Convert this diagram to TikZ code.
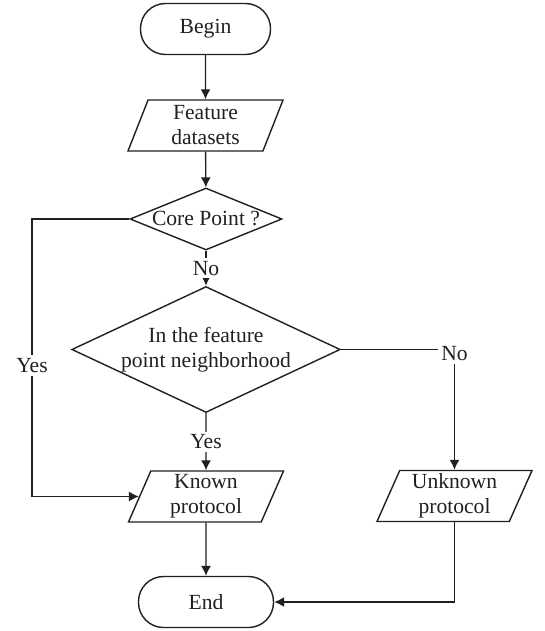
\documentclass[tikz,border=0pt]{standalone}
\usepackage{fontspec}
\setmainfont{Liberation Serif}
\usepackage{xcolor}
\usepackage{tikz}
\usetikzlibrary{arrows.meta, shapes}
\usetikzlibrary{shapes.geometric, positioning, calc}

\definecolor{inkgray}{HTML}{231F20}

\tikzset{
    flowline/.style={draw=inkgray, line width=0.7pt},
    terminal/.style={flowline, rounded corners=12.5pt, minimum width=65pt, minimum height=25.5pt, inner sep=0pt},
    iobox/.style={flowline, trapezium, trapezium left angle=63, trapezium right angle=117,
        trapezium stretches body=true, minimum width=77.5pt, minimum height=25.5pt,
        inner sep=0pt, align=center},
    decision/.style={flowline, diamond, aspect=2.4, inner sep=0pt, align=center},
    answer/.style={fill=white, inner sep=1.5pt, text=inkgray}
}

\begin{document}
\begin{tikzpicture}[x=0.5pt, y=-0.5pt, >={Latex[length=5pt,width=5pt]},
        font=\fontsize{10.8}{12.5}\selectfont, text=inkgray]
        \useasboundingbox (0, 0) rectangle (545, 631);

        \node[terminal] (begin) at (205.5, 29) {Begin};
        \node[iobox] (feat) at (205.5, 125.5) {Feature\\datasets};
        \node[decision, minimum width=76pt, minimum height=31pt] (core) at (206, 219) {Core Point ?};
        \node[decision, aspect=2.2, minimum width=134pt, minimum height=63pt] (nbhd) at (206, 349.5) {In the feature\\point neighborhood};
        \node[iobox] (known) at (206, 496.5) {Known\\protocol};
        \node[iobox] (unknown) at (454.5, 496) {Unknown\\protocol};
        \node[terminal, minimum width=67.5pt] (end) at (206, 602) {End};

        \coordinate (yesbend) at (32, 219);

        \draw[flowline, ->] (begin) -- (feat);
        \draw[flowline, ->] (feat) -- (core);
        \draw[flowline, ->] (core) -- node[answer] {No} (nbhd);
        \draw[flowline, ->] (nbhd) -- node[answer] {Yes} (known);
        \draw[flowline, ->] (nbhd.east) -| node[answer, pos=0.5, yshift=-2pt] {No} (unknown);
        \draw[flowline, ->] (core.west) -- (yesbend) |- node[answer, pos=0.264] {Yes} (known.west);
        \draw[flowline, ->] (known) -- (end);
        \draw[flowline, ->] (unknown) |- (end.east);
    \end{tikzpicture}
\end{document}
